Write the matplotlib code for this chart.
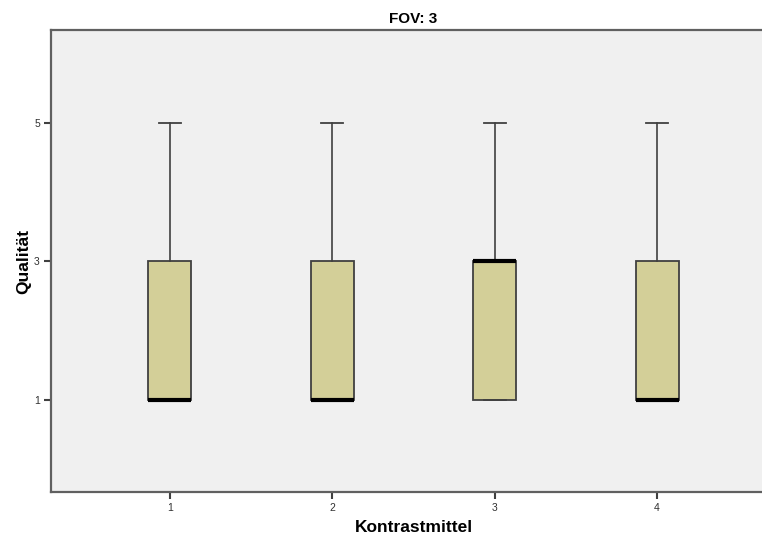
import matplotlib
matplotlib.use('Agg')
import matplotlib.pyplot as plt

# data
groups = ['1', '2', '3', '4']
q1 = [1, 1, 1, 1]
medians = [1, 1, 3, 1]
q3 = [3, 3, 3, 3]
whislo = [1, 1, 1, 1]
whishi = [5, 5, 5, 5]
yticks = [1, 3, 5]

plt.rcParams['font.family'] = ['Liberation Sans', 'DejaVu Sans']

fig = plt.figure(figsize=(7.62, 5.39), dpi=100)
ax = fig.add_axes([51 / 762, 1 - 492 / 539, (776 - 51) / 762, (492 - 30) / 539])
ax.set_facecolor('#f0f0f0')

stats = []
for i, g in enumerate(groups):
    stats.append({'label': g, 'q1': q1[i], 'med': medians[i], 'q3': q3[i],
                  'whislo': whislo[i], 'whishi': whishi[i], 'fliers': []})

positions = list(range(1, len(groups) + 1))
ax.bxp(stats, positions=positions, widths=0.265, patch_artist=True,
       showfliers=False,
       boxprops=dict(facecolor='#d3cf98', edgecolor='#404040', linewidth=1.3),
       medianprops=dict(color='black', linewidth=3, solid_capstyle='butt'),
       whiskerprops=dict(color='#404040', linewidth=1.2),
       capprops=dict(color='#404040', linewidth=1.3),
       capwidths=0.135)

ax.set_xlim(0.268, 4.732)
ax.set_ylim(-0.33, 6.34)
ax.set_yticks(yticks)
ax.set_yticklabels([str(t) for t in yticks])
ax.set_xticks(positions)
ax.set_xticklabels(groups)

for s in ax.spines.values():
    s.set_color('#606060')
    s.set_linewidth(1.6)

ax.tick_params(axis='both', direction='out', length=5, width=1.5, color='#404040',
               labelsize=7.5, labelcolor='#303030', pad=3)

ax.set_title('FOV: 3', fontsize=11, fontweight='bold', pad=5)
ax.set_xlabel('Kontrastmittel', fontsize=12.5, fontweight='bold', labelpad=5)
ax.set_ylabel('Qualität', fontsize=12.5, fontweight='bold', labelpad=2)

fig.savefig('out.png', dpi=100)
